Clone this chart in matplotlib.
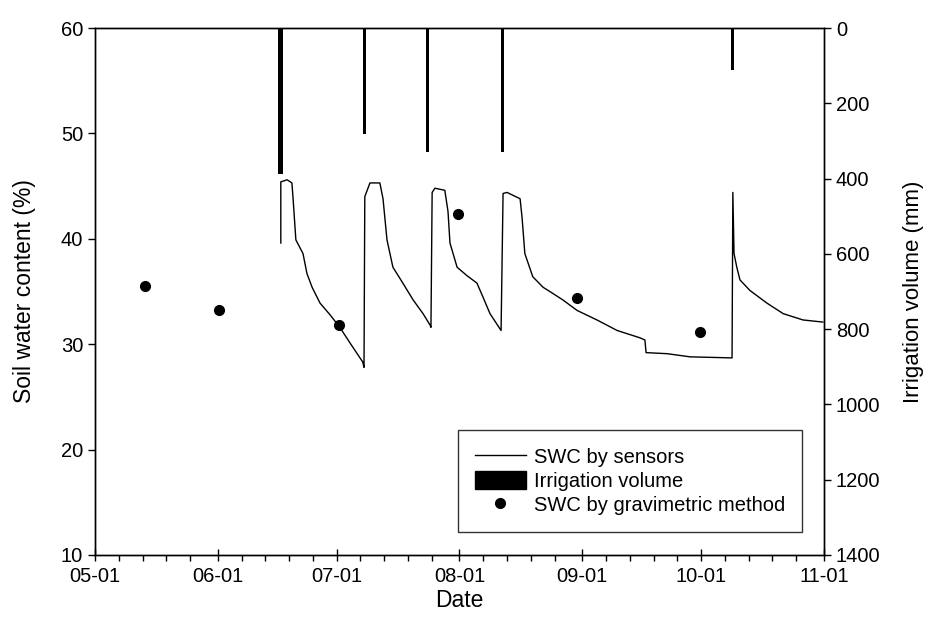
import numpy as np
import matplotlib
matplotlib.use("Agg")
import matplotlib.pyplot as plt
import matplotlib.dates as mdates
from matplotlib.patches import Patch
from matplotlib.lines import Line2D

plt.rcParams['font.family'] = ['Liberation Sans', 'DejaVu Sans']

# --- data (days after May 1) ---
sensor_day = [46.9, 46.9, 48.5, 49.7, 50.0, 50.7, 52.5, 53.5, 54.8, 56.8, 59.3, 61.8,
              64.4, 67.6, 67.9, 68.1, 69.4, 71.9, 72.7, 73.7, 75.2, 77.7, 80.3, 82.8,
              84.6, 84.8, 85.1, 85.8, 88.3, 89.1, 89.6, 91.4, 93.9, 96.4, 97.9, 99.7,
              102.5, 103.0, 104.0, 107.3, 107.8, 108.5, 110.5, 113.1, 114.8, 118.1,
              121.7, 126.7, 131.8, 137.6, 138.8, 139.1, 144.4, 150.2, 160.8, 161.0,
              161.3, 162.0, 162.8, 165.3, 169.6, 173.7, 178.7, 183.7]
sensor_swc = [39.6, 45.4, 45.6, 45.3, 43.8, 39.9, 38.6, 36.7, 35.4, 33.9, 32.8, 31.6,
              30.1, 28.3, 27.8, 44.0, 45.3, 45.3, 43.8, 39.9, 37.3, 35.8, 34.2, 32.9,
              31.8, 31.6, 44.4, 44.8, 44.6, 42.6, 39.6, 37.3, 36.5, 35.8, 34.5, 32.9,
              31.3, 44.3, 44.4, 43.8, 42.0, 38.6, 36.4, 35.4, 35.0, 34.2,
              33.2, 32.3, 31.3, 30.6, 30.4, 29.2, 29.1, 28.8, 28.7, 44.4,
              38.6, 37.3, 36.1, 35.1, 33.9, 32.9, 32.3, 32.1]

irr_day = [46.8, 68.1, 83.9, 102.8, 161.0]
irr_mm = [388, 281, 329, 329, 112]
irr_width = [1.1, 0.8, 0.8, 0.8, 0.8]

grav_day = [12.6, 31.3, 61.6, 91.6, 121.7, 152.7]
grav_swc = [35.5, 33.2, 31.8, 42.4, 34.4, 31.2]

start = np.datetime64('2010-05-01T00:00')


def to_dates(days):
    return start + (np.array(days) * 24 * 60).astype('timedelta64[m]')


fig = plt.figure(figsize=(9.36, 6.35), dpi=100)
ax = fig.add_axes([0.1015, 0.126, 0.7788, 0.8299])
ax2 = ax.twinx()

ax.plot(to_dates(sensor_day), sensor_swc, color='black', lw=1.0, zorder=3)
ax.plot(to_dates(grav_day), grav_swc, 'o', color='black', ms=7, zorder=4)
ax2.bar(to_dates(irr_day), irr_mm, width=irr_width, color='black', align='center')

ax.set_xlim(np.datetime64('2010-05-01'), np.datetime64('2010-11-01'))
ax.set_ylim(10, 60)
ax.set_yticks(range(10, 61, 10))
ax2.set_ylim(1400, 0)
ax2.set_yticks(range(0, 1401, 200))

ax.xaxis.set_major_locator(mdates.MonthLocator())
ax.xaxis.set_major_formatter(mdates.DateFormatter('%m-%d'))
ax.xaxis.set_minor_locator(mdates.DayLocator(bymonthday=[7, 13, 19, 25]))

ax.tick_params(axis='x', which='major', direction='inout', length=8, width=1,
               labelsize=14.5, pad=5)
ax.tick_params(axis='x', which='minor', direction='out', length=4, width=1)
ax.tick_params(axis='y', direction='out', length=5, width=1, labelsize=14.5)
ax2.tick_params(axis='y', direction='out', length=5, width=1, labelsize=14.5)

for a in (ax, ax2):
    for s in a.spines.values():
        s.set_linewidth(1.0)

ax.set_xlabel('Date', fontsize=16.5, labelpad=2)
ax.set_ylabel('Soil water content (%)', fontsize=16.5, labelpad=18)
ax2.set_ylabel('Irrigation volume (mm)', fontsize=16, labelpad=16)

handles = [Line2D([], [], color='black', lw=1.0),
           Patch(facecolor='black', edgecolor='black'),
           Line2D([], [], marker='o', ls='none', color='black', ms=7)]
labels = ['SWC by sensors', 'Irrigation volume', 'SWC by gravimetric method']
leg = ax2.legend(handles, labels, loc='lower right', bbox_to_anchor=(0.97, 0.0436),
                 fontsize=14.5, frameon=True, fancybox=False, edgecolor='black',
                 handlelength=2.5, handleheight=1.0, labelspacing=0.2,
                 borderpad=0.85, handletextpad=0.4, borderaxespad=0)
leg.get_frame().set_linewidth(1.0)

fig.savefig('out.png', dpi=100)
